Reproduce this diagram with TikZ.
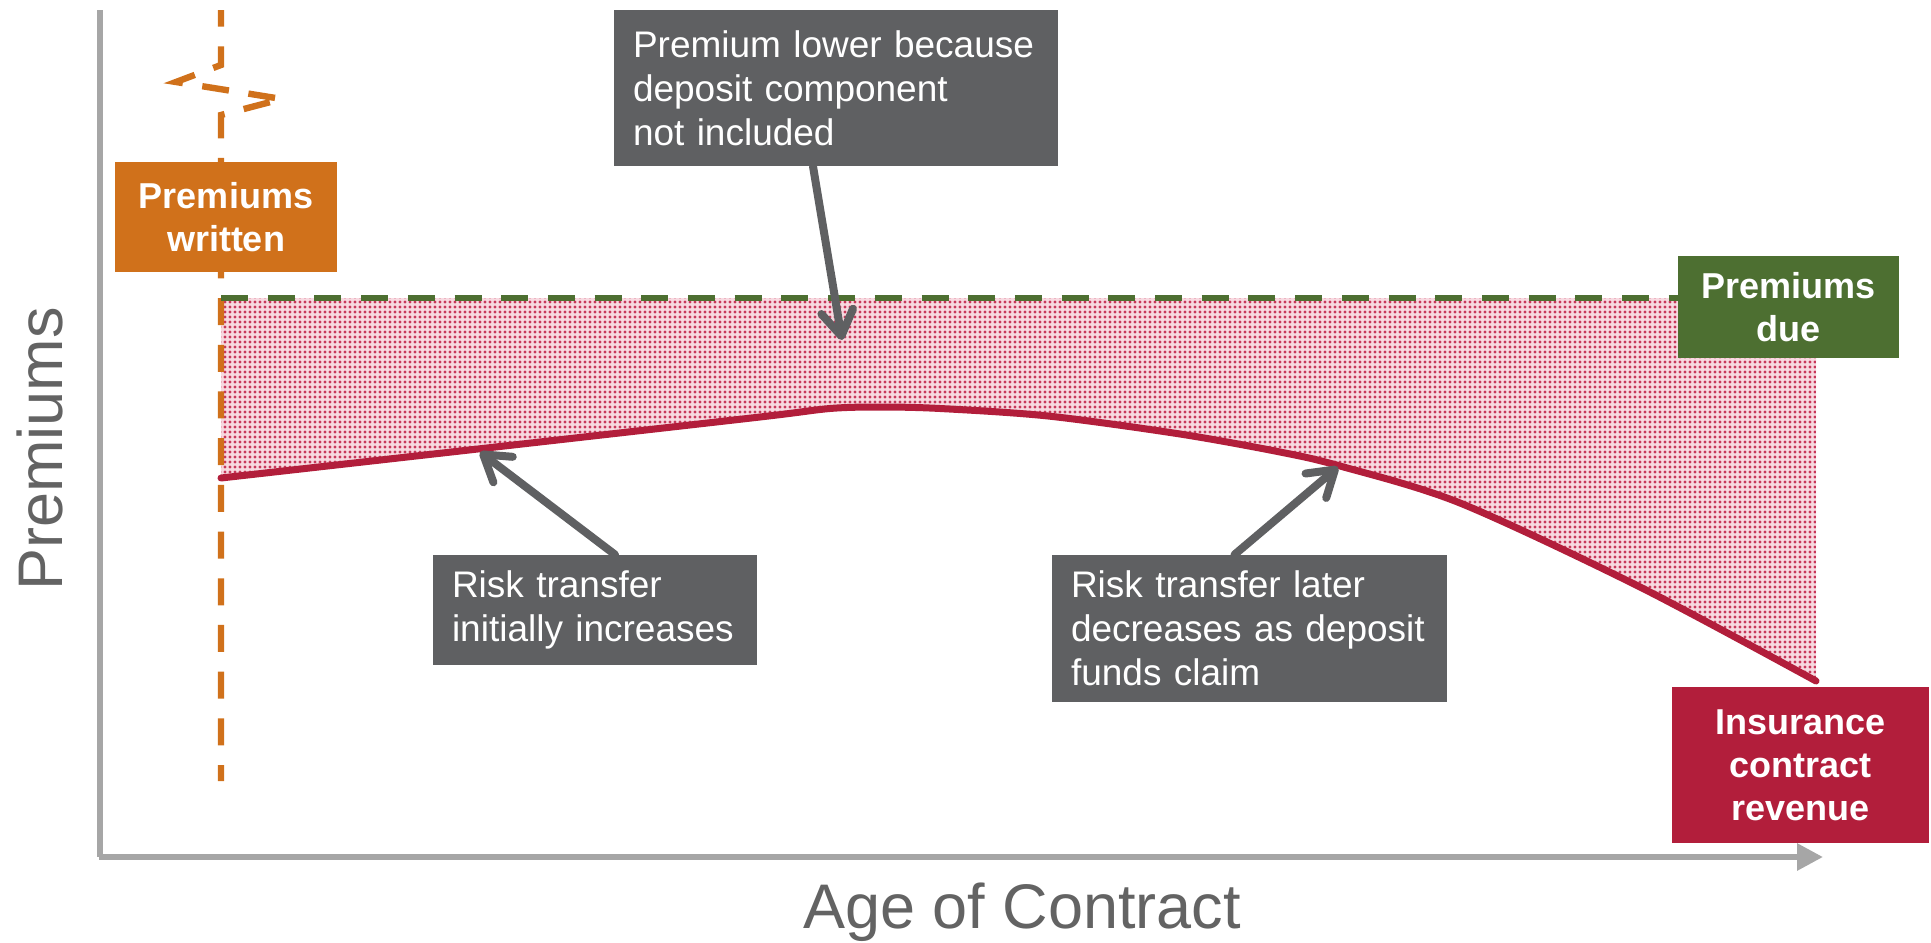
\documentclass[tikz,border=0pt]{standalone}
\usepackage{fontspec}
\setmainfont{Liberation Sans}
\usetikzlibrary{arrows.meta,patterns.meta,calc}

\definecolor{orangeP}{HTML}{D0711B}
\definecolor{greenP}{HTML}{4D6F31}
\definecolor{redP}{HTML}{B21E3B}
\definecolor{boxgray}{HTML}{5F6062}
\definecolor{axisgray}{HTML}{A6A6A6}
\definecolor{labelgray}{HTML}{636363}
\definecolor{pinkbg}{HTML}{F7D9E0}
\definecolor{dotred}{HTML}{C8375A}

\tikzdeclarepattern{
  name=pinkdots,
  type=uncolored,
  bounding box={(-1.25pt,-1.25pt) and (1.25pt,1.25pt)},
  tile size={(2.5pt,2.5pt)},
  code={\fill (0pt,0pt) circle [radius=0.8pt];}
}

\begin{document}
\begin{tikzpicture}[x=0.5pt,y=-0.5pt,
  box/.style={rectangle, inner sep=0pt, text=white},
  labelbox/.style={box, fill=boxgray, inner xsep=9.5pt, align=left,
    font=\fontsize{18.5}{22}\selectfont},
  keybox/.style={box, align=center, font=\bfseries\fontsize{18}{21.5}\selectfont},
  pointer/.style={draw=boxgray, line width=4pt, line cap=round,
    -{Straight Barb[length=12.5pt,width=16pt,round]}},
  axis/.style={draw=axisgray, line width=3pt},
  axislabel/.style={text=labelgray, font=\fontsize{31.5}{36}\selectfont, inner sep=0pt},
  revline/.style={draw=redP, line width=3.5pt, line cap=round},
  duedash/.style={draw=greenP, line width=3pt, dash pattern=on 13.5pt off 9.85pt},
  writtendash/.style={draw=orangeP, line width=3.2pt, dash pattern=on 13.5pt off 9.85pt, dash phase=5.2pt}
]
\useasboundingbox (0,0) rectangle (1931,942);

% shaded gap between premiums due and revenue
\fill[pinkbg] (1816,298) -- (221,298) -- plot[smooth] coordinates {(221,478) (500,446.5) (760,417) (830,408.5) (880,407) (940,408.5) (1048,416) (1180,434) (1280,452) (1340,466) (1460,503) (1640,587) (1816,681)} -- cycle;
\fill[pattern=pinkdots, pattern color=dotred] (1816,298) -- (221,298) -- plot[smooth] coordinates {(221,478) (500,446.5) (760,417) (830,408.5) (880,407) (940,408.5) (1048,416) (1180,434) (1280,452) (1340,466) (1460,503) (1640,587) (1816,681)} -- cycle;

% axes
\draw[axis] (100,10) -- (100,857);
\draw[axis, -{Triangle[length=13pt,width=13pt]}] (98.5,857) -- (1823,857);
\node[axislabel, rotate=90, anchor=base] (ylab) at (62,449) {Premiums};
\node[axislabel, anchor=base] (xlab) at (1022,928) {Age of Contract};

% revenue curve
\draw[revline] plot[smooth] coordinates {(221,478) (500,446.5) (760,417) (830,408.5) (880,407) (940,408.5) (1048,416) (1180,434) (1280,452) (1340,466) (1460,503) (1640,587) (1816,681)};

% premiums written line with break mark
\draw[writtendash] (221,10) -- (221,65) -- (176,82) -- (282,99) -- (221,115) -- (221,781);

% boxes
\node[keybox, fill=orangeP, minimum width=111pt, minimum height=55pt] (written) at (226,217) {Premiums\\written};
\node[keybox, fill=greenP, minimum width=110.5pt, minimum height=51pt] (due) at (1788.5,307) {Premiums\\due};
\node[keybox, fill=redP, minimum width=128.5pt, minimum height=78pt] (revenue) at (1800.5,765) {Insurance\\contract\\revenue};

% premiums due line
\coordinate (duestart) at (221,298);
\draw[duedash] (duestart) -- (duestart -| due.west);

\node[labelbox, text width=203pt, minimum height=78pt] (lower) at (836,88) {Premium lower because\\deposit component\\not included};
\node[labelbox, text width=143pt, minimum height=55pt] (inc) at (595,610) {Risk transfer\\initially increases};
\node[labelbox, text width=178.5pt, minimum height=73.5pt] (dec) at (1249.5,628.5) {Risk transfer later\\decreases as deposit\\funds claim};

% pointers
\coordinate (tiplow) at (842,340);
\coordinate (tipinc) at (480,452);
\coordinate (tipdec) at (1338,467);
\draw[pointer] ($(lower.south)+(-23,0)$) -- (tiplow);
\draw[pointer] ($(inc.north)+(20,0)$) -- (tipinc);
\draw[pointer] ($(dec.north)+(-15,0)$) -- (tipdec);
\end{tikzpicture}
\end{document}
